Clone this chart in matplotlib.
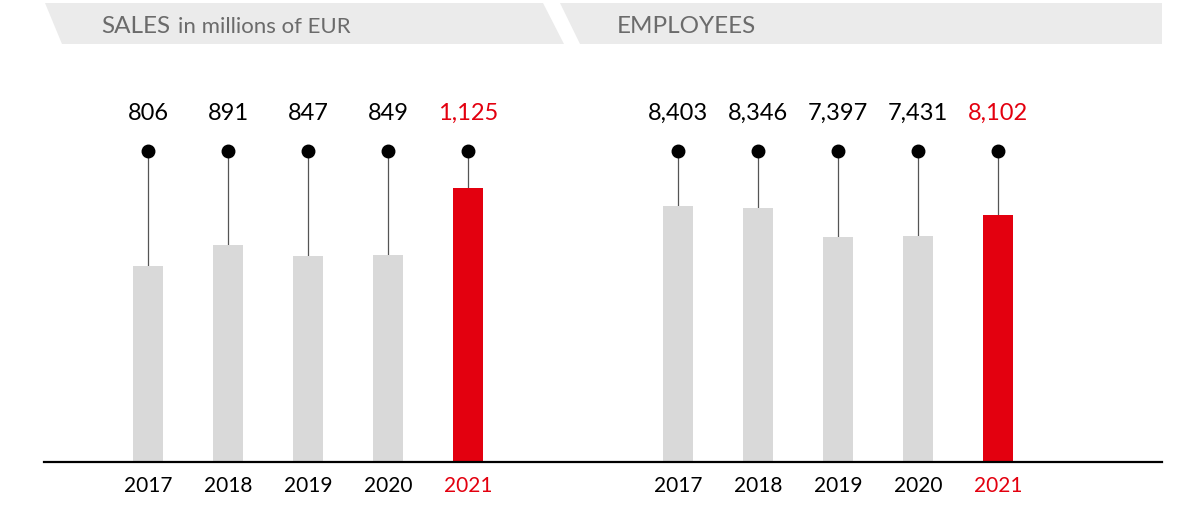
import matplotlib
matplotlib.use("Agg")
import matplotlib.pyplot as plt
from matplotlib.patches import Polygon
from matplotlib.lines import Line2D

years = ["2017", "2018", "2019", "2020", "2021"]
sales = [806, 891, 847, 849, 1125]
employees = [8403, 8346, 7397, 7431, 8102]
sales_labels = ["806", "891", "847", "849", "1,125"]
employee_labels = ["8,403", "8,346", "7,397", "7,431", "8,102"]

W, H = 1200, 508
GRAY = "#d9d9d9"
RED = "#e3000f"
HDR = "#ebebeb"
HTXT = "#6b6b6b"
FONT = "Lato"

plt.rcParams["font.family"] = [FONT, "DejaVu Sans"]

fig = plt.figure(figsize=(W / 100, H / 100), dpi=100)

def fx(px):
    return px / W

def fy(py):
    return (H - py) / H

base_y = 462
top_y = 100
ax_h = base_y - top_y

def make_axes(x0, x1, xlim, ylim):
    ax = fig.add_axes([fx(x0), fy(base_y), fx(x1) - fx(x0), ax_h / H])
    ax.set_xlim(*xlim)
    ax.set_ylim(*ylim)
    ax.axis("off")
    return ax

ax1 = make_axes(44, 603, (-1.3, 5.6875), (0, ax_h / 0.2435))
ax2 = make_axes(603, 1162, (-0.9375, 6.05), (0, ax_h / 0.03047))

dot_y = (base_y - 151) / ax_h
lab_y = (base_y - 113) / ax_h
year_y = (base_y - 486) / ax_h

def draw(ax, vals, labels):
    n = len(vals)
    colors = [GRAY] * (n - 1) + [RED]
    xs = list(range(n))
    ax.bar(xs, vals, width=0.375, color=colors, zorder=2)
    trans = ax.get_xaxis_transform()
    ylo, yhi = ax.get_ylim()
    for i, v in enumerate(vals):
        frac = (v - ylo) / (yhi - ylo)
        ax.plot([i, i], [frac, dot_y], transform=trans, color="#555555", lw=0.9, zorder=1, clip_on=False)
        ax.plot([i], [dot_y], transform=trans, marker="o", ms=9, color="black", clip_on=False, zorder=3)
        tc = RED if i == n - 1 else "black"
        ax.text(i, lab_y, labels[i], transform=trans, ha="center", va="center", fontsize=17, color=tc)
        ax.text(i, year_y, years[i], transform=trans, ha="center", va="center", fontsize=15, color=tc)

draw(ax1, sales, sales_labels)
draw(ax2, employees, employee_labels)

# baseline
fig.add_artist(Line2D([fx(44), fx(1162)], [fy(base_y), fy(base_y)], color="black", lw=1.6))

# headers
def poly(pts):
    return Polygon([(fx(x), fy(y)) for x, y in pts], closed=True, transform=fig.transFigure,
                   facecolor=HDR, edgecolor="none")

fig.add_artist(poly([(45, 3), (543, 3), (564, 44), (62, 44)]))
fig.add_artist(poly([(560, 3), (1162, 3), (1162, 44), (580, 44)]))

hb = 33
t = fig.text(fx(101), fy(hb), "SALES", fontsize=17.5, color=HTXT, va="baseline", ha="left")
fig.canvas.draw()
bb = t.get_window_extent()
fig.text(bb.x1 / W + fx(8), fy(hb), "in millions of EUR", fontsize=16, color=HTXT, va="baseline", ha="left")
fig.text(fx(617), fy(hb), "EMPLOYEES", fontsize=17.5, color=HTXT, va="baseline", ha="left")

fig.savefig("out.png", dpi=100)
